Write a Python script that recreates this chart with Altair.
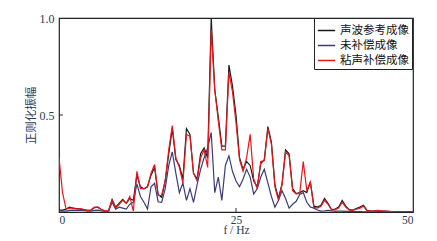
import altair as alt
import pandas as pd

freq = [0.0, 0.5, 1.0, 1.5, 2.0, 2.5, 3.0, 3.5, 4.0, 4.5,
        5.0, 5.5, 6.0, 6.5, 7.0, 7.5, 8.0, 8.5, 9.0, 9.5,
        10.0, 10.5, 11.0, 11.5, 12.0, 12.5, 13.0, 13.5, 14.0, 14.5,
        15.0, 15.5, 16.0, 16.5, 17.0, 17.5, 18.0, 18.5, 19.0, 19.5,
        20.0, 20.5, 21.0, 21.5, 22.0, 22.5, 23.0, 23.5, 24.0, 24.5,
        25.0, 25.5, 26.0, 26.5, 27.0, 27.5, 28.0, 28.5, 29.0, 29.5,
        30.0, 30.5, 31.0, 31.5, 32.0, 32.5, 33.0, 33.5, 34.0, 34.5,
        35.0, 35.5, 36.0, 36.5, 37.0, 37.5, 38.0, 38.5, 39.0, 39.5,
        40.0, 40.5, 41.0, 41.5, 42.0, 42.5, 43.0, 43.5, 44.0, 44.5,
        45.0, 45.5, 46.0, 46.5, 47.0, 47.5, 48.0, 48.5, 49.0, 49.5,
        50.0]

acoustic_ref = [
    0.01, 0.01, 0.015, 0.025, 0.02, 0.018, 0.015, 0.012, 0.008, 0.01,
    0.022, 0.025, 0.012, 0.005, 0.005, 0.065, 0.025, 0.045, 0.065, 0.045,
    0.07, 0.06, 0.19, 0.13, 0.12, 0.13, 0.19, 0.23, 0.09, 0.075,
    0.16, 0.30, 0.43, 0.27, 0.24, 0.17, 0.43, 0.40, 0.2, 0.17,
    0.30, 0.33, 0.28, 1.0, 0.63, 0.49, 0.34, 0.34, 0.757, 0.65,
    0.50, 0.28, 0.22, 0.26, 0.24, 0.16, 0.13, 0.25, 0.27, 0.44,
    0.36, 0.14, 0.07, 0.145, 0.32, 0.30, 0.12, 0.095, 0.1, 0.11,
    0.10, 0.155, 0.03, 0.025, 0.035, 0.07, 0.045, 0.012, 0.015, 0.025,
    0.06, 0.03, 0.012, 0.01, 0.018, 0.025, 0.035, 0.008, 0.005, 0.005,
    0.007, 0.005, 0.004, 0.003, 0.002, 0.002, 0.002, 0.001, 0.001, 0.001,
    0.001]

uncompensated = [
    0.005, 0.005, 0.005, 0.008, 0.01, 0.008, 0.01, 0.008, 0.005, 0.005,
    0.008, 0.01, 0.005, 0.003, 0.005, 0.05, 0.015, 0.025, 0.02, 0.015,
    0.04, 0.05, 0.145, 0.08, 0.05, 0.015, 0.13, 0.148, 0.053, 0.05,
    0.12, 0.24, 0.31, 0.2, 0.10, 0.15, 0.06, 0.12, 0.05, 0.14,
    0.22, 0.28, 0.33, 0.41, 0.10, 0.18, 0.06, 0.24, 0.29, 0.21,
    0.16, 0.13, 0.17, 0.22, 0.18, 0.093, 0.12, 0.18, 0.22, 0.15,
    0.08, 0.025, 0.06, 0.11, 0.07, 0.02, 0.04, 0.055, 0.09, 0.10,
    0.05, 0.026, 0.02, 0.01, 0.005, 0.006, 0.008, 0.006, 0.005, 0.004,
    0.004, 0.003, 0.003, 0.002, 0.002, 0.002, 0.001, 0.001, 0.001, 0.001,
    0.001, 0.001, 0.001, 0.0, 0.0, 0.0, 0.0, 0.0, 0.0, 0.0,
    0.0]

visco_comp = [
    0.28, 0.10, 0.015, 0.02, 0.02, 0.015, 0.018, 0.012, 0.008, 0.01,
    0.025, 0.025, 0.012, 0.005, 0.005, 0.06, 0.02, 0.04, 0.06, 0.045,
    0.08, 0.005, 0.21, 0.12, 0.12, 0.13, 0.2, 0.245, 0.085, 0.085,
    0.16, 0.32, 0.445, 0.28, 0.23, 0.15, 0.40, 0.39, 0.2, 0.16,
    0.28, 0.32, 0.23, 0.94, 0.63, 0.47, 0.32, 0.32, 0.72, 0.62,
    0.46, 0.27, 0.21, 0.28, 0.40, 0.17, 0.12, 0.26, 0.265, 0.43,
    0.35, 0.13, 0.06, 0.14, 0.31, 0.29, 0.11, 0.093, 0.095, 0.26,
    0.11, 0.155, 0.024, 0.02, 0.03, 0.06, 0.04, 0.01, 0.012, 0.02,
    0.05, 0.025, 0.01, 0.008, 0.015, 0.02, 0.03, 0.007, 0.005, 0.005,
    0.008, 0.006, 0.004, 0.003, 0.002, 0.002, 0.002, 0.001, 0.001, 0.001,
    0.001]

series_names = ["声波参考成像", "未补偿成像", "粘声补偿成像"]
series_colors = ["#1a1a1a", "#3b3b78", "#e8161b"]
x_ticks = [0, 25, 50]
y_ticks = [0.5, 1.0]

rows = []
for name, vals in zip(series_names, [acoustic_ref, uncompensated, visco_comp]):
    for f, v in zip(freq, vals):
        rows.append({"f": f, "amp": v, "series": name, "order": series_names.index(name)})
df = pd.DataFrame(rows)

label_color = "#2b3a5e"
serif = "Liberation Serif"
cjk = "Noto Sans CJK SC"

xscale = alt.Scale(domain=[0, 50], nice=False, zero=False)
yscale = alt.Scale(domain=[0, 1], nice=False)

lines = alt.Chart(df).mark_line(strokeWidth=1.2, clip=True).encode(
    x=alt.X("f:Q", scale=xscale,
            axis=alt.Axis(values=x_ticks, title="f / Hz", ticks=False, domain=False,
                          grid=False, labelFont=serif, labelFontSize=11.5,
                          labelColor=label_color, labelPadding=2,
                          titleFont=serif, titleFontSize=11.5, titleFontWeight="normal",
                          titleColor=label_color, titlePadding=-1)),
    y=alt.Y("amp:Q", scale=yscale,
            axis=alt.Axis(values=y_ticks, format=".1f", title="正则化振幅", ticks=False,
                          domain=False, grid=False, labelFont=serif, labelFontSize=12,
                          labelColor=label_color, labelPadding=5,
                          titleFont=cjk, titleFontSize=11.5, titleFontWeight="normal",
                          titleColor=label_color, titlePadding=3)),
    color=alt.Color("series:N",
                    scale=alt.Scale(domain=series_names, range=series_colors),
                    legend=alt.Legend(title=None, orient="none", legendX=255, legendY=0,
                                      strokeColor="#222222", fillColor="white",
                                      padding=3, symbolType="stroke", symbolSize=300,
                                      symbolStrokeWidth=1.5, labelFont=cjk,
                                      labelFontSize=11.5, labelColor="#111111",
                                      labelOffset=4, rowPadding=-1, cornerRadius=0,
                                      labelLimit=120)),
    order=alt.Order("order:Q"),
    detail="series:N",
)

tick_df = pd.DataFrame({"t": [25]})
xticks = alt.Chart(tick_df).mark_rule(color="#333333", strokeWidth=1).encode(
    x=alt.X("t:Q", scale=xscale), y=alt.value(194), y2=alt.value(190))
ytick_df = pd.DataFrame({"t": [0.5]})
yticks = alt.Chart(ytick_df).mark_rule(color="#333333", strokeWidth=1).encode(
    y=alt.Y("t:Q", scale=yscale), x=alt.value(0), x2=alt.value(4))

chart = alt.layer(lines, xticks, yticks).properties(
    width=354, height=194,
    autosize=alt.AutoSizeParams(type="none"),
    padding={"left": 59, "top": 18, "right": 24, "bottom": 29},
    background="white",
).configure_view(stroke="#222222", strokeWidth=1.2)

chart.save("out.html", embed_options={"renderer": "svg", "actions": False})
